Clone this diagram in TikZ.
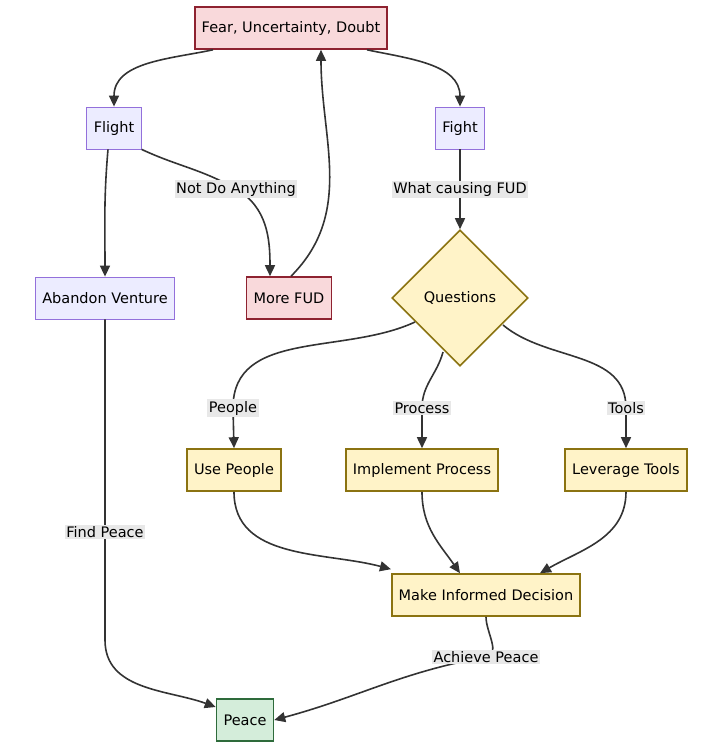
\documentclass[tikz,border=0pt]{standalone}
\usepackage{fontspec}
\setmainfont{DejaVu Sans}
\usetikzlibrary{arrows.meta,shapes.geometric}
\definecolor{redfill}{HTML}{F9D9DB}
\definecolor{redline}{HTML}{8E2230}
\definecolor{lavfill}{HTML}{ECECFF}
\definecolor{lavline}{HTML}{9370DB}
\definecolor{yelfill}{HTML}{FFF3C8}
\definecolor{yelline}{HTML}{8B7311}
\definecolor{grnfill}{HTML}{D4EDDA}
\definecolor{grnline}{HTML}{2E6B3B}
\tikzset{
    box/.style={draw, line width=1.6pt, minimum height=42pt, inner xsep=7pt, font=\fontsize{14.5}{16}\selectfont},
    redbox/.style={box, fill=redfill, draw=redline},
    lavbox/.style={box, fill=lavfill, draw=lavline, line width=0.8pt},
    yelbox/.style={box, fill=yelfill, draw=yelline},
    grnbox/.style={box, fill=grnfill, draw=grnline},
    edge/.style={-{Triangle[length=11pt,width=10pt]}, line width=1.6pt, draw=black!80},
    lbl/.style={fill=black!9, inner sep=1.5pt, font=\fontsize{14.5}{16}\selectfont}
}
\begin{document}
\begin{tikzpicture}[x=1pt,y=-1pt]
\useasboundingbox (0,0) rectangle (718,755);

\node[redbox] (fud) at (291,28) {Fear, Uncertainty, Doubt};
\node[lavbox] (flight) at (114,128) {Flight};
\node[lavbox] (fight) at (460,128) {Fight};
\node[lavbox] (abandon) at (105,298) {Abandon Venture};
\node[redbox] (morefud) at (289,298) {More FUD};
\node[draw, line width=1.6pt, diamond, aspect=1, fill=yelfill, draw=yelline, minimum size=136pt, inner sep=0pt, font=\fontsize{14.5}{16}\selectfont] (questions) at (460,298) {Questions};
\node[yelbox] (usepeople) at (234,470) {Use People};
\node[yelbox] (process) at (422,470) {Implement Process};
\node[yelbox] (tools) at (626,470) {Leverage Tools};
\node[yelbox] (decision) at (486,595) {Make Informed Decision};
\node[grnbox] (peace) at (245,720) {Peace};

\draw[edge] ([xshift=-78pt]fud.south) to[out=-168,in=90] (flight.north);
\draw[edge] ([xshift=76pt]fud.south) to[out=-12,in=90] (fight.north);
\draw[edge] ([xshift=2pt]morefud.north) to[out=45,in=-90] ([xshift=30pt]fud.south);
\draw[edge] (flight.south east) to[out=-25,in=150] (236,189) node[lbl] {Not Do Anything} to[out=-30,in=90] ([xshift=-19pt]morefud.north);
\draw[edge] ([xshift=-6pt]flight.south) to[out=-95,in=90] (abandon.north);
\draw[edge] (fight.south) -- node[lbl] {What causing FUD} (questions.north);
\draw[edge] (abandon.south) -- (105,532) node[lbl] {Find Peace} -- (105,640) to[out=-90,in=160] (peace.west |- 0,707);
\draw[edge] (415,322) to[out=-155,in=90] (233,408) node[lbl] {People} -- (usepeople.north);
\draw[edge] (443,352) to[out=-105,in=90] (422,408) node[lbl] {Process} -- (process.north);
\draw[edge] (503,325) to[out=-40,in=90] (626,408) node[lbl] {Tools} -- (tools.north);
\draw[edge] (usepeople.south) to[out=-90,in=165] ([yshift=4pt]decision.north west);
\draw[edge] (process.south) to[out=-90,in=125] ([xshift=-26pt]decision.north);
\draw[edge] (tools.south) to[out=-90,in=30] ([xshift=54pt]decision.north);
\draw[edge] (decision.south) to[out=-90,in=10] (486,657) node[lbl] {Achieve Peace} to[out=190,in=15] (peace.east);
\end{tikzpicture}
\end{document}
